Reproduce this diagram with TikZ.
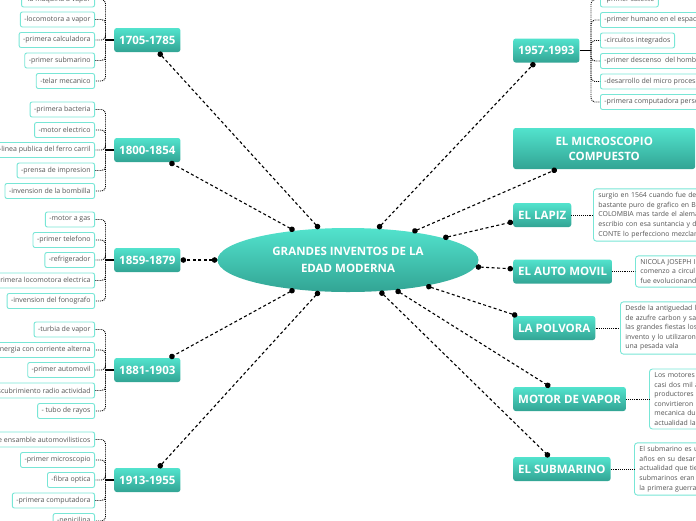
\documentclass[tikz,border=0pt]{standalone}
\usepackage{fontspec}
\setmainfont{Open Sans}
\usetikzlibrary{shapes.geometric,arrows.meta}

\definecolor{aquatop}{HTML}{52E3CD}
\definecolor{aquabot}{HTML}{32A494}
\definecolor{aqualine}{HTML}{78E6D6}
\definecolor{notegray}{HTML}{555555}

\tikzset{
  topic/.style={ellipse, top color=aquatop, bottom color=aquabot, text=white,
    font=\bfseries\fontsize{11.5}{17}\selectfont, align=center,
    minimum width=261pt, minimum height=64pt, inner sep=0pt},
  era/.style={rounded corners=2.5pt, top color=aquatop, bottom color=aquabot, text=white,
    font=\bfseries\fontsize{11.5}{15}\selectfont, minimum height=24pt, inner xsep=5pt},
  leaf/.style={draw=aqualine, line width=0.9pt, fill=white, rounded corners=2pt,
    text=notegray, font=\fontsize{7}{8}\selectfont, minimum height=15pt,
    inner xsep=4pt, inner ysep=0pt},
  note/.style={draw=aqualine, line width=0.9pt, fill=white, rounded corners=3pt,
    text=notegray, font=\fontsize{6.9}{9.6}\selectfont, align=left, anchor=west,
    text width=150pt, inner xsep=5pt, inner ysep=3.5pt},
  link/.style={{Circle[length=5.5pt]}-{Circle[length=5.5pt]}, line width=1.1pt,
    dash pattern=on 3pt off 2.5pt},
  bus/.style={densely dotted, line width=0.9pt, rounded corners=4pt,
    to path={|- (\tikztotarget)}},
}

\begin{document}
\begin{tikzpicture}[x=1pt,y=-1pt]
  \useasboundingbox (0,0) rectangle (696,520);
  \clip (0,0) rectangle (696,520);

  \node[topic] (G) at (348,260) {GRANDES INVENTOS DE LA\\EDAD MODERNA};

  % eras
  \node[era,anchor=west] (E1) at (114,40) {1705-1785};
  \node[era,anchor=west] (E2) at (114,150) {1800-1854};
  \node[era,anchor=west] (E3) at (114,260) {1859-1879};
  \node[era,anchor=west] (E4) at (114,370) {1881-1903};
  \node[era,anchor=west] (E5) at (114,480) {1913-1955};
  \node[era,anchor=west] (E6) at (513,50.5) {1957-1993};

  % inventions
  \node[era,anchor=west,minimum width=182pt,minimum height=41pt,align=center] (I1) at (513,148.5) {EL MICROSCOPIO\\COMPUESTO};
  \node[era,anchor=west] (I2) at (513,215) {EL LAPIZ};
  \node[era,anchor=west] (I3) at (513,271.5) {EL AUTO MOVIL};
  \node[era,anchor=west] (I4) at (513,328) {LA POLVORA};
  \node[era,anchor=west] (I5) at (513,399) {MOTOR DE VAPOR};
  \node[era,anchor=west] (I6) at (513,469) {EL SUBMARINO};

  % notes
  \node[note] (N2) at (593,215) {surgio en 1564 cuando fue des\\bastante puro de grafico en Bo\\COLOMBIA mas tarde el alema\\escribio con esa suntancia y d\\CONTE lo perfecciono mezclan};
  \node[note] (N3) at (635,271.5) {NICOLA JOSEPH I\\comenzo a circul\\fue evolucionand};
  \node[note] (N4) at (620,328) {Desde la antiguedad l\\de azufre carbon y sal\\las grandes fiestas los\\invento y lo utilizaron\\una pesada vala};
  \node[note] (N5) at (649,399) {Los motores\\casi dos mil a\\productores\\convirtieron\\mecanica du\\actualidad la};
  \node[note] (N6) at (634,469) {El submarino es u\\años en su desarr\\actualidad que tie\\submarinos eran\\la primera guerra};

  % leaves
  \node[leaf,anchor=east] (A1) at (95,-0.5) {-la maquina a vapor};
  \node[leaf,anchor=east] (A2) at (95,19.5) {-locomotora a vapor};
  \node[leaf,anchor=east] (A3) at (95,40) {-primera calculadora};
  \node[leaf,anchor=east] (A4) at (95,60.5) {-primer submarino};
  \node[leaf,anchor=east] (A5) at (95,81) {-telar mecanico};

  \node[leaf,anchor=east] (B1) at (95,109.5) {-primera bacteria};
  \node[leaf,anchor=east] (B2) at (95,130) {-motor electrico};
  \node[leaf,anchor=east] (B3) at (95,150) {-linea publica del ferro carril};
  \node[leaf,anchor=east] (B4) at (95,170.5) {-prensa de impresion};
  \node[leaf,anchor=east] (B5) at (95,191) {-invension de la bombilla};

  \node[leaf,anchor=east] (C1) at (95,219.5) {-motor a gas};
  \node[leaf,anchor=east] (C2) at (95,240) {-primer telefono};
  \node[leaf,anchor=east] (C3) at (95,260) {-refrigerador};
  \node[leaf,anchor=east] (C4) at (95,280.5) {-primera locomotora electrica};
  \node[leaf,anchor=east] (C5) at (95,301) {-invension del fonografo};

  \node[leaf,anchor=east] (D1) at (95,329.5) {-turbia de vapor};
  \node[leaf,anchor=east] (D2) at (95,350) {-energia con corriente alterna};
  \node[leaf,anchor=east] (D3) at (95,370) {-primer automovil};
  \node[leaf,anchor=east] (D4) at (95,390.5) {-descubrimiento radio actividad};
  \node[leaf,anchor=east] (D5) at (95,411) {- tubo de rayos};

  \node[leaf,anchor=east] (F1) at (95,439.5) {-linea de ensamble automovilisticos};
  \node[leaf,anchor=east] (F2) at (95,460) {-primer microscopio};
  \node[leaf,anchor=east] (F3) at (95,480) {-fibra optica};
  \node[leaf,anchor=east] (F4) at (95,500.5) {-primera computadora};
  \node[leaf,anchor=east] (F5) at (95,521) {-penicilina};

  \node[leaf,anchor=west] (H1) at (600,-0.5) {-primer satelite};
  \node[leaf,anchor=west] (H2) at (600,20) {-primer humano en el espacio};
  \node[leaf,anchor=west] (H3) at (600,40.5) {-circuitos integrados};
  \node[leaf,anchor=west] (H4) at (600,61) {-primer descenso\ \ del hombre a la luna};
  \node[leaf,anchor=west] (H5) at (600,81.5) {-desarrollo del micro procesador};
  \node[leaf,anchor=west] (H6) at (600,102) {-primera computadora personal};

  % joints of the leaf lists
  \coordinate (J1) at (105.5,40);
  \coordinate (J2) at (105.5,150);
  \coordinate (J3) at (105.5,260);
  \coordinate (J4) at (105.5,370);
  \coordinate (J5) at (105.5,480);
  \coordinate (J6) at (591,50.5);

  \draw[line width=1.4pt]
    (E1.west) -- (J1) (E2.west) -- (J2) (E3.west) -- (J3)
    (E4.west) -- (J4) (E5.west) -- (J5) (E6.east) -- (J6);

  \draw
    (J1) edge[bus] (A1.east) edge[bus] (A2.east) edge[bus] (A3.east) edge[bus] (A4.east) edge[bus] (A5.east)
    (J2) edge[bus] (B1.east) edge[bus] (B2.east) edge[bus] (B3.east) edge[bus] (B4.east) edge[bus] (B5.east)
    (J3) edge[bus] (C1.east) edge[bus] (C2.east) edge[bus] (C3.east) edge[bus] (C4.east) edge[bus] (C5.east)
    (J4) edge[bus] (D1.east) edge[bus] (D2.east) edge[bus] (D3.east) edge[bus] (D4.east) edge[bus] (D5.east)
    (J5) edge[bus] (F1.east) edge[bus] (F2.east) edge[bus] (F3.east) edge[bus] (F4.east) edge[bus] (F5.east)
    (J6) edge[bus] (H1.west) edge[bus] (H2.west) edge[bus] (H3.west) edge[bus] (H4.west) edge[bus] (H5.west) edge[bus] (H6.west)
    ;

  \draw[densely dotted, line width=0.9pt]
    (I2) edge (N2) (I3) edge (N3) (I4) edge (N4) (I5) edge (N5) (I6) edge (N6);

  \draw
    (G) edge[link] (E1) (G) edge[link] (E2) (G) edge[link] (E3)
    (G) edge[link] (E4) (G) edge[link] (E5) (G) edge[link] (E6)
    (G) edge[link] (I1) (G) edge[link] (I2) (G) edge[link] (I3)
    (G) edge[link] (I4) (G) edge[link] (I5) (G) edge[link] (I6)
    ;
\end{tikzpicture}
\end{document}
